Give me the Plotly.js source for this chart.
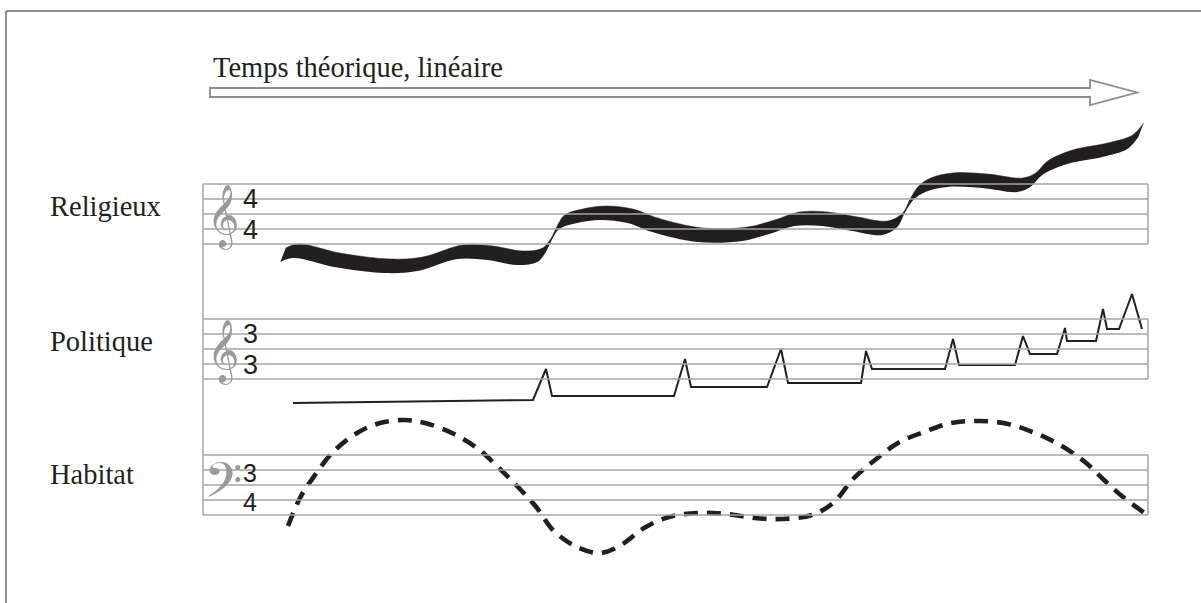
<!DOCTYPE html>
<html><head><meta charset="utf-8">
<script src="https://cdn.plot.ly/plotly-3.0.1.min.js"></script>
<style>html,body{margin:0;padding:0;background:#fff}</style>
</head><body><div id="chart" style="width:1201px;height:603px"></div>
<script>
// ---- data ----
const title = 'Temps théorique, linéaire';
const staffNames = ['Religieux', 'Politique', 'Habitat'];
const timeSigTop = ['4', '3', '3'];
const timeSigBottom = ['4', '3', '4'];
const clefs = ['\u{1D11E}', '\u{1D11E}', '\u{1D122}'];

const religX = [283, 296, 337, 387, 420, 460, 490, 520, 540, 548, 555, 562, 580, 603, 630, 655, 700, 745, 772, 797, 825, 855, 885, 900, 908, 916, 928, 950, 985, 1020, 1033, 1045, 1070, 1105, 1130, 1141];
const religY = [255, 251, 260, 266, 264, 252, 253, 258, 255, 246, 232, 222, 216, 213, 216, 225, 235, 234, 227, 219, 219, 224, 228, 220, 205, 193, 185, 180, 181, 185, 180, 168, 157, 150, 142, 130];

const politX = [293, 533, 546, 552, 674, 685, 691, 767, 781, 788, 861, 866, 872, 945, 953, 959, 1015, 1023, 1030, 1057, 1065, 1067, 1096, 1103, 1107, 1119, 1132, 1142];
const politY = [403, 400, 369, 396, 396, 359, 387, 387, 349, 383, 383, 351, 369, 369, 339, 365, 365, 336, 354, 354, 328, 341, 341, 309, 329, 329, 294, 329];

const habitX = [288, 300, 315, 333, 357, 380, 405, 425, 452, 477, 498, 518, 537, 553, 575, 600, 621, 644, 669, 697, 726, 755, 783, 812, 833, 854, 875, 898, 924, 951, 980, 1008, 1035, 1060, 1085, 1104, 1123, 1146];
const habitY = [526, 498, 475, 452, 433, 423, 420, 423, 433, 448, 467, 487, 508, 530, 546, 553, 545, 528, 517, 513, 514, 518, 519, 515, 503, 478, 460, 443, 432, 423, 421, 424, 433, 445, 462, 480, 497, 514];

// ---- layout constants ----
const W = 1201, H = 603;
const staffTop = [184, 319, 455];
const gap = 15;
const staffL = 203, staffR = 1148;
const ink = '#231f20';
const staffCol = '#a4a4a4';
const nib = {dx: 2.7, dy: 7};
const labelOff = [-8, -8, -11];
const sigTopOff = [15, 15, 18];
const sigBotOff = [46, 46, 47];
const sigSize = [27, 27, 25];
const clefSize = [55, 55, 60];
const clefYOff = [2, 2, 1];

const shapes = [];
// frame
shapes.push({type:'line', x0:6, y0:11, x1:W+5, y1:11, line:{color:'#6e6e6e', width:1.5}});
shapes.push({type:'line', x0:6, y0:11, x1:6, y1:H+5, line:{color:'#6e6e6e', width:1.5}});
// staves
staffTop.forEach(t => {
  for (let i = 0; i < 5; i++) {
    shapes.push({type:'line', x0:staffL, x1:staffR, y0:t+i*gap, y1:t+i*gap, line:{color:staffCol, width:1.5}});
  }
  shapes.push({type:'line', x0:staffR, x1:staffR, y0:t, y1:t+4*gap, line:{color:staffCol, width:1.5}});
});
shapes.push({type:'line', x0:staffL, x1:staffL, y0:staffTop[0], y1:staffTop[2]+4*gap, line:{color:staffCol, width:1.5}});
// arrow
shapes.push({type:'path', path:'M 210 88 L 1090 88 L 1090 80 L 1137 92.5 L 1090 105 L 1090 97 L 210 97 Z',
  line:{color:'#8c8c8c', width:1.8}, fillcolor:'#ffffff'});

const annotations = [];
annotations.push({x:211, y:67, text:title, showarrow:false, xanchor:'left', yanchor:'middle',
  font:{family:'Liberation Serif', size:28.5, color:ink}});
staffNames.forEach((n, k) => {
  const mid = staffTop[k] + 2*gap;
  annotations.push({x:48, y:mid + labelOff[k], text:n, showarrow:false, xanchor:'left', yanchor:'middle',
    font:{family:'Liberation Serif', size:28.5, color:ink}});
  annotations.push({x:250, y:staffTop[k] + sigTopOff[k], text:timeSigTop[k], showarrow:false, xanchor:'center', yanchor:'middle',
    font:{family:'Liberation Sans', size:sigSize[k], color:ink}});
  annotations.push({x:250, y:staffTop[k] + sigBotOff[k], text:timeSigBottom[k], showarrow:false, xanchor:'center', yanchor:'middle',
    font:{family:'Liberation Sans', size:sigSize[k], color:ink}});
  annotations.push({x:223, y:mid + clefYOff[k], text:clefs[k], showarrow:false, xanchor:'center', yanchor:'middle',
    font:{family:'DejaVu Sans', size:clefSize[k], color:'#9a9a9a'}});
});

const traces = [
  {x: religX.map(v => v - nib.dx), y: religY.map(v => v + nib.dy), mode:'lines',
   line:{shape:'spline', smoothing:1, width:0, color:ink}, hoverinfo:'skip'},
  {x: religX.map(v => v + nib.dx), y: religY.map(v => v - nib.dy), mode:'lines', fill:'tonexty',
   fillcolor:ink, line:{shape:'spline', smoothing:1, width:0.5, color:ink}, hoverinfo:'skip'},
  {x: politX, y: politY, mode:'lines', line:{color:ink, width:2}, hoverinfo:'skip'},
  {x: habitX, y: habitY, mode:'lines', line:{color:ink, width:4.6, dash:'14px,9px', shape:'spline', smoothing:1}, hoverinfo:'skip'}
];

const layout = {
  width: W, height: H, margin:{l:0, r:0, t:0, b:0},
  paper_bgcolor:'#ffffff', plot_bgcolor:'#ffffff', showlegend:false,
  xaxis:{range:[0, W], visible:false, fixedrange:true},
  yaxis:{range:[H, 0], visible:false, fixedrange:true},
  shapes, annotations
};
Plotly.newPlot('chart', traces, layout, {staticPlot:true, displayModeBar:false});
</script></body></html>
